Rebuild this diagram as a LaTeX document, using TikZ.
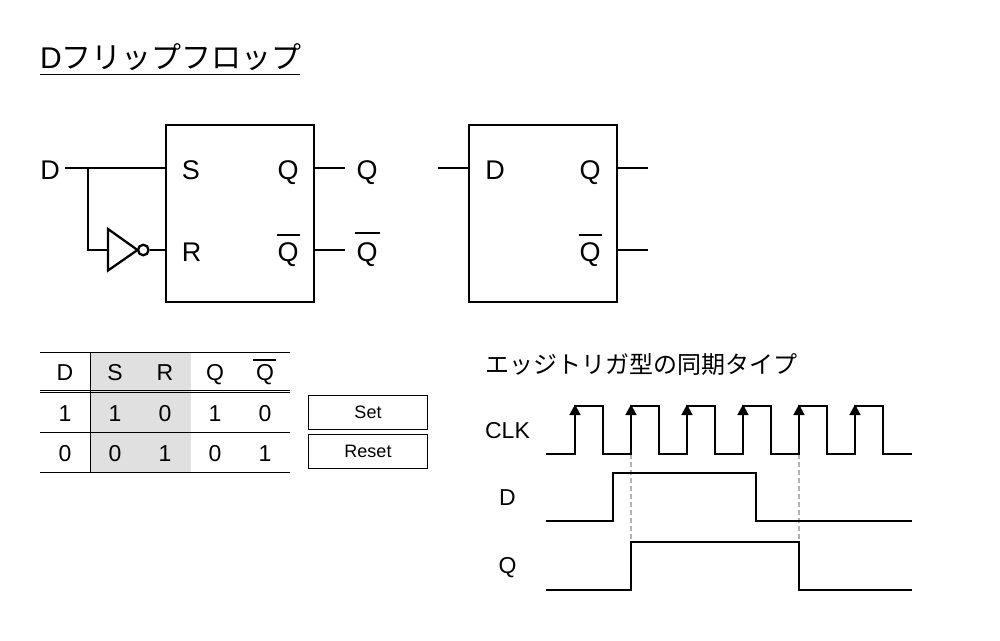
\documentclass[tikz,border=0pt]{standalone}
\usepackage{fontspec}
\setmainfont{Liberation Sans}
\newfontfamily\cjk{Noto Sans CJK JP}
\tikzset{
  big/.style={anchor=base,inner sep=0pt,font=\fontsize{27}{27}\selectfont},
  cell/.style={anchor=base,inner sep=0pt,font=\fontsize{23}{23}\selectfont},
  wave/.style={line width=2.3,line join=miter},
  thin line/.style={line width=1.1},
  box/.style={draw,line width=2.3,minimum width=148,minimum height=177,inner sep=0pt},
  button/.style={draw,line width=1.1,minimum width=119,minimum height=34,inner sep=0pt,font=\fontsize{18}{18}\selectfont},
  tip/.style={fill=black,draw=none},
  guide/.style={line width=1.4,draw=black!30,dash pattern=on 5 off 3}
}
\begin{document}
\begin{tikzpicture}[x=1pt,y=-1pt]
\useasboundingbox (0,0) rectangle (1000,640);

\node[anchor=base west,inner sep=0pt,font=\fontsize{30}{30}\selectfont] (title) at (40,68){D{\cjk フリップフロップ}};
\coordinate (TL) at (40,74.5);
\coordinate (TR) at (300,74.5);
\draw[thin line] (TL) -- (TR);

\node[box] (FFA) at (240,213.7){};
\node[box] (FFB) at (543,213.7){};

\node[big] (DIN) at (50,179){D};
\node[big] (S) at (191,179){S};
\node[big] (R) at (191.5,261.7){R};
\node[big] (QA) at (288,179){Q};
\node[big] (NQA) at (288,261.7){Q};
\node[big] (QO) at (367,179){Q};
\node[big] (NQO) at (367,261.7){Q};
\node[big] (DB) at (495,179){D};
\node[big] (QB) at (590,179){Q};
\node[big] (NQB) at (590,261.7){Q};
\draw[wave] (277,234.7) -- (300,234.7);
\draw[wave] (355,232.7) -- (380,232.7);
\draw[wave] (579,234.7) -- (602,234.7);

\coordinate (Dout) at (65,168);
\coordinate (Sin) at (166,168);
\coordinate (Rin) at (166,250);
\coordinate (Br) at (88,168);
\coordinate (InvA) at (108,229);
\coordinate (InvB) at (108,270.5);
\coordinate (InvC) at (137.5,250);
\coordinate (InvL) at (108,250);
\node[circle,draw,line width=2.3,minimum size=10.5,inner sep=0pt] (Bub) at (143.3,250){};
\coordinate (QAa) at (314,168);
\coordinate (QAb) at (345,168);
\coordinate (NQAa) at (314,250);
\coordinate (NQAb) at (345,250);
\coordinate (DBa) at (438,168);
\coordinate (DBb) at (469,168);
\coordinate (QBa) at (617,168);
\coordinate (QBb) at (648,168);
\coordinate (NQBa) at (617,250);
\coordinate (NQBb) at (648,250);
\draw[wave] (InvA) -- (InvB) -- (InvC) -- cycle;
\draw[wave] (Br) |- (InvL);
\draw[wave] (Bub) -- (Rin);
\foreach \from/\to in {Dout/Sin,QAa/QAb,NQAa/NQAb,DBa/DBb,QBa/QBb,NQBa/NQBb}
\draw[wave] (\from) -- (\to);

\fill[black!12] (91,352) rectangle (191,472);
\foreach \y in {352.5,390.5,392.5,432.5,472.5}
\draw[thin line] (40,\y) -- (290,\y);
\draw[thin line] (90.5,352) -- (90.5,472);
\foreach \name/\x/\y/\t in {hD/65/380.7/D,hS/115/380.7/S,hR/165/380.7/R,hQ/215/380.7/Q,hN/265/380.7/Q,
  aD/65/421.7/1,aS/115/421.7/1,aR/165/421.7/0,aQ/215/421.7/1,aN/265/421.7/0,
  bD/65/461.7/0,bS/115/461.7/0,bR/165/461.7/1,bQ/215/461.7/0,bN/265/461.7/1}
\node[cell] (\name) at (\x,\y){\t};
\draw[wave] (253,360) -- (276,360);
\node[button] (Set) at (368,412.5){Set};
\node[button] (Reset) at (368,451.5){Reset};

\node[anchor=base west,inner sep=0pt,font=\cjk\fontsize{24}{24}\selectfont] (head) at (485,373){エッジトリガ型の同期タイプ};
\node[cell] (CLK) at (507.5,438){CLK};
\node[cell] (WD) at (507.5,505){D};
\node[cell] (WQ) at (507.5,573.7){Q};

\foreach \x in {631,799}
\draw[guide] (\x,454) -- (\x,542);
\draw[wave] (546,454) -- (575,454) -- (575,406) -- (603,406) -- (603,454) -- (631,454) -- (631,406) -- (659,406) -- (659,454) -- (687,454) -- (687,406) -- (715,406) -- (715,454) -- (743,454) -- (743,406) -- (771,406) -- (771,454) -- (799,454) -- (799,406) -- (827,406) -- (827,454) -- (855,454) -- (855,406) -- (883,406) -- (883,454) -- (912,454);
\foreach \x in {575,631,687,743,799,855}
\fill[tip] (\x,404.5) -- (\x+5.7,415) -- (\x-5.7,415) -- cycle;
\draw[wave] (546,521) -- (613,521) -- (613,473) -- (756,473) -- (756,521) -- (912,521);
\draw[wave] (546,590) -- (631,590) -- (631,542) -- (799,542) -- (799,590) -- (912,590);
\end{tikzpicture}
\end{document}
